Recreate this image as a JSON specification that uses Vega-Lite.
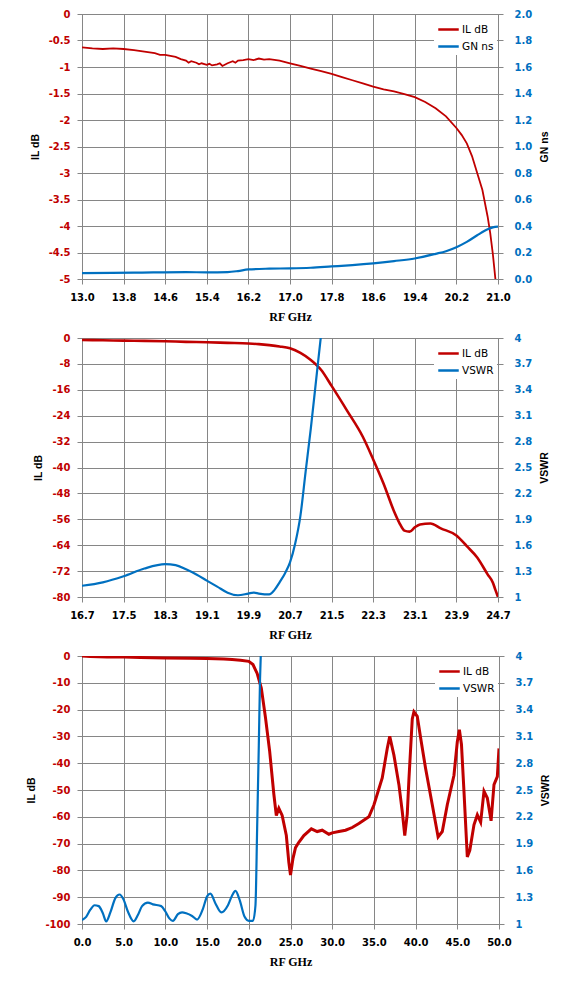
{
  "$schema": "https://vega.github.io/schema/vega-lite/v6.json",
  "background": "white",
  "padding": {"left": 26, "top": 8, "right": 5, "bottom": 5},
  "datasets": {
    "p1": [
      {"s":"IL dB","f":13.0,"v":-0.63},{"s":"IL dB","f":13.2,"v":-0.65},{"s":"IL dB","f":13.4,"v":-0.66},{"s":"IL dB","f":13.6,"v":-0.65},{"s":"IL dB","f":13.8,"v":-0.66},{"s":"IL dB","f":14.0,"v":-0.68},{"s":"IL dB","f":14.2,"v":-0.71},{"s":"IL dB","f":14.4,"v":-0.74},{"s":"IL dB","f":14.5,"v":-0.77},{"s":"IL dB","f":14.6,"v":-0.77},{"s":"IL dB","f":14.7,"v":-0.79},{"s":"IL dB","f":14.8,"v":-0.81},{"s":"IL dB","f":14.9,"v":-0.85},{"s":"IL dB","f":15.0,"v":-0.88},{"s":"IL dB","f":15.05,"v":-0.92},{"s":"IL dB","f":15.1,"v":-0.89},{"s":"IL dB","f":15.2,"v":-0.92},{"s":"IL dB","f":15.25,"v":-0.95},{"s":"IL dB","f":15.3,"v":-0.93},{"s":"IL dB","f":15.4,"v":-0.96},{"s":"IL dB","f":15.45,"v":-0.94},{"s":"IL dB","f":15.5,"v":-0.97},{"s":"IL dB","f":15.6,"v":-0.95},{"s":"IL dB","f":15.65,"v":-0.93},{"s":"IL dB","f":15.7,"v":-0.98},{"s":"IL dB","f":15.8,"v":-0.93},{"s":"IL dB","f":15.9,"v":-0.89},{"s":"IL dB","f":15.95,"v":-0.92},{"s":"IL dB","f":16.0,"v":-0.88},{"s":"IL dB","f":16.1,"v":-0.87},{"s":"IL dB","f":16.2,"v":-0.85},{"s":"IL dB","f":16.3,"v":-0.87},{"s":"IL dB","f":16.4,"v":-0.84},{"s":"IL dB","f":16.5,"v":-0.86},{"s":"IL dB","f":16.6,"v":-0.85},{"s":"IL dB","f":16.8,"v":-0.88},{"s":"IL dB","f":17.0,"v":-0.93},{"s":"IL dB","f":17.2,"v":-0.98},{"s":"IL dB","f":17.4,"v":-1.03},{"s":"IL dB","f":17.6,"v":-1.08},{"s":"IL dB","f":17.8,"v":-1.13},{"s":"IL dB","f":18.0,"v":-1.19},{"s":"IL dB","f":18.2,"v":-1.25},{"s":"IL dB","f":18.4,"v":-1.31},{"s":"IL dB","f":18.6,"v":-1.37},{"s":"IL dB","f":18.8,"v":-1.42},{"s":"IL dB","f":19.0,"v":-1.46},{"s":"IL dB","f":19.2,"v":-1.51},{"s":"IL dB","f":19.4,"v":-1.57},{"s":"IL dB","f":19.6,"v":-1.66},{"s":"IL dB","f":19.8,"v":-1.78},{"s":"IL dB","f":20.0,"v":-1.93},{"s":"IL dB","f":20.2,"v":-2.15},{"s":"IL dB","f":20.3,"v":-2.28},{"s":"IL dB","f":20.4,"v":-2.44},{"s":"IL dB","f":20.5,"v":-2.68},{"s":"IL dB","f":20.6,"v":-3.0},{"s":"IL dB","f":20.7,"v":-3.32},{"s":"IL dB","f":20.8,"v":-3.82},{"s":"IL dB","f":20.85,"v":-4.13},{"s":"IL dB","f":20.9,"v":-4.52},{"s":"IL dB","f":20.95,"v":-5.0},
      {"s":"GN ns","f":13.0,"v":0.045},{"s":"GN ns","f":14.0,"v":0.048},{"s":"GN ns","f":15.0,"v":0.052},{"s":"GN ns","f":15.4,"v":0.05},{"s":"GN ns","f":15.8,"v":0.052},{"s":"GN ns","f":16.0,"v":0.06},{"s":"GN ns","f":16.2,"v":0.072},{"s":"GN ns","f":16.6,"v":0.078},{"s":"GN ns","f":17.0,"v":0.08},{"s":"GN ns","f":17.4,"v":0.085},{"s":"GN ns","f":17.8,"v":0.095},{"s":"GN ns","f":18.2,"v":0.105},{"s":"GN ns","f":18.6,"v":0.118},{"s":"GN ns","f":19.0,"v":0.135},{"s":"GN ns","f":19.4,"v":0.155},{"s":"GN ns","f":19.8,"v":0.19},{"s":"GN ns","f":20.0,"v":0.21},{"s":"GN ns","f":20.2,"v":0.24},{"s":"GN ns","f":20.4,"v":0.28},{"s":"GN ns","f":20.6,"v":0.33},{"s":"GN ns","f":20.8,"v":0.375},{"s":"GN ns","f":20.9,"v":0.39},{"s":"GN ns","f":21.0,"v":0.395}
    ],
    "p2": [
      {"s":"IL dB","f":16.7,"v":-0.6},{"s":"IL dB","f":17.1,"v":-0.7},{"s":"IL dB","f":17.5,"v":-0.8},{"s":"IL dB","f":17.9,"v":-0.9},{"s":"IL dB","f":18.3,"v":-1.0},{"s":"IL dB","f":18.7,"v":-1.2},{"s":"IL dB","f":19.1,"v":-1.3},{"s":"IL dB","f":19.5,"v":-1.5},{"s":"IL dB","f":19.9,"v":-1.7},{"s":"IL dB","f":20.1,"v":-1.9},{"s":"IL dB","f":20.3,"v":-2.2},{"s":"IL dB","f":20.5,"v":-2.6},{"s":"IL dB","f":20.7,"v":-3.2},{"s":"IL dB","f":20.9,"v":-4.6},{"s":"IL dB","f":21.1,"v":-6.8},{"s":"IL dB","f":21.3,"v":-9.9},{"s":"IL dB","f":21.5,"v":-14.8},{"s":"IL dB","f":21.8,"v":-22.5},{"s":"IL dB","f":22.1,"v":-30.5},{"s":"IL dB","f":22.3,"v":-37.5},{"s":"IL dB","f":22.5,"v":-45.0},{"s":"IL dB","f":22.7,"v":-53.5},{"s":"IL dB","f":22.8,"v":-57.0},{"s":"IL dB","f":22.9,"v":-59.5},{"s":"IL dB","f":23.0,"v":-59.8},{"s":"IL dB","f":23.1,"v":-58.5},{"s":"IL dB","f":23.2,"v":-57.6},{"s":"IL dB","f":23.4,"v":-57.3},{"s":"IL dB","f":23.6,"v":-58.8},{"s":"IL dB","f":23.9,"v":-61.0},{"s":"IL dB","f":24.1,"v":-64.3},{"s":"IL dB","f":24.3,"v":-67.8},{"s":"IL dB","f":24.5,"v":-73.0},{"s":"IL dB","f":24.6,"v":-75.5},{"s":"IL dB","f":24.65,"v":-77.8},{"s":"IL dB","f":24.7,"v":-80.0},
      {"s":"VSWR","f":16.7,"v":1.13},{"s":"VSWR","f":17.1,"v":1.17},{"s":"VSWR","f":17.5,"v":1.24},{"s":"VSWR","f":17.9,"v":1.33},{"s":"VSWR","f":18.3,"v":1.38},{"s":"VSWR","f":18.5,"v":1.37},{"s":"VSWR","f":18.7,"v":1.32},{"s":"VSWR","f":18.9,"v":1.26},{"s":"VSWR","f":19.1,"v":1.19},{"s":"VSWR","f":19.3,"v":1.12},{"s":"VSWR","f":19.5,"v":1.05},{"s":"VSWR","f":19.7,"v":1.02},{"s":"VSWR","f":19.9,"v":1.04},{"s":"VSWR","f":20.0,"v":1.05},{"s":"VSWR","f":20.1,"v":1.04},{"s":"VSWR","f":20.3,"v":1.03},{"s":"VSWR","f":20.4,"v":1.08},{"s":"VSWR","f":20.5,"v":1.17},{"s":"VSWR","f":20.6,"v":1.27},{"s":"VSWR","f":20.7,"v":1.4},{"s":"VSWR","f":20.8,"v":1.62},{"s":"VSWR","f":20.9,"v":1.94},{"s":"VSWR","f":21.0,"v":2.45},{"s":"VSWR","f":21.1,"v":2.95},{"s":"VSWR","f":21.2,"v":3.5},{"s":"VSWR","f":21.3,"v":4.05},{"s":"VSWR","f":21.35,"v":4.3}
    ],
    "p3": [
      {"s":"IL dB","f":0,"v":0},{"s":"IL dB","f":1,"v":-0.2},{"s":"IL dB","f":2,"v":-0.3},{"s":"IL dB","f":3,"v":-0.4},{"s":"IL dB","f":5,"v":-0.4},{"s":"IL dB","f":7,"v":-0.6},{"s":"IL dB","f":10,"v":-0.7},{"s":"IL dB","f":13,"v":-0.8},{"s":"IL dB","f":15,"v":-0.9},{"s":"IL dB","f":17,"v":-1.1},{"s":"IL dB","f":18,"v":-1.3},{"s":"IL dB","f":19,"v":-1.6},{"s":"IL dB","f":20,"v":-2.0},{"s":"IL dB","f":20.5,"v":-3.2},{"s":"IL dB","f":21.0,"v":-6.5},{"s":"IL dB","f":21.5,"v":-12},{"s":"IL dB","f":22.0,"v":-23},{"s":"IL dB","f":22.5,"v":-35.5},{"s":"IL dB","f":23.0,"v":-51.5},{"s":"IL dB","f":23.3,"v":-59.5},{"s":"IL dB","f":23.6,"v":-56.8},{"s":"IL dB","f":24.0,"v":-59.5},{"s":"IL dB","f":24.5,"v":-67},{"s":"IL dB","f":24.8,"v":-77},{"s":"IL dB","f":25.0,"v":-81.7},{"s":"IL dB","f":25.3,"v":-75.5},{"s":"IL dB","f":25.6,"v":-71.5},{"s":"IL dB","f":26.0,"v":-69.5},{"s":"IL dB","f":26.6,"v":-67},{"s":"IL dB","f":27.5,"v":-64.5},{"s":"IL dB","f":28.2,"v":-65.5},{"s":"IL dB","f":28.8,"v":-65},{"s":"IL dB","f":29.6,"v":-66.5},{"s":"IL dB","f":30.0,"v":-66},{"s":"IL dB","f":30.8,"v":-65.5},{"s":"IL dB","f":31.6,"v":-65},{"s":"IL dB","f":32.4,"v":-64},{"s":"IL dB","f":33.2,"v":-62.5},{"s":"IL dB","f":34.4,"v":-60},{"s":"IL dB","f":35.0,"v":-55.6},{"s":"IL dB","f":36.0,"v":-45.5},{"s":"IL dB","f":36.6,"v":-34.5},{"s":"IL dB","f":36.9,"v":-30},{"s":"IL dB","f":37.4,"v":-37},{"s":"IL dB","f":38.0,"v":-48},{"s":"IL dB","f":38.4,"v":-58},{"s":"IL dB","f":38.7,"v":-67},{"s":"IL dB","f":39.0,"v":-59},{"s":"IL dB","f":39.2,"v":-46},{"s":"IL dB","f":39.6,"v":-23.5},{"s":"IL dB","f":39.8,"v":-20.8},{"s":"IL dB","f":40.2,"v":-22.5},{"s":"IL dB","f":40.6,"v":-30.5},{"s":"IL dB","f":41.2,"v":-42},{"s":"IL dB","f":42.0,"v":-55.5},{"s":"IL dB","f":42.7,"v":-67.5},{"s":"IL dB","f":43.2,"v":-65.5},{"s":"IL dB","f":43.8,"v":-55.5},{"s":"IL dB","f":44.6,"v":-44.5},{"s":"IL dB","f":45.0,"v":-32},{"s":"IL dB","f":45.25,"v":-27.5},{"s":"IL dB","f":45.5,"v":-33},{"s":"IL dB","f":45.8,"v":-50.5},{"s":"IL dB","f":46.2,"v":-75},{"s":"IL dB","f":46.5,"v":-72.5},{"s":"IL dB","f":47.0,"v":-63},{"s":"IL dB","f":47.4,"v":-59.3},{"s":"IL dB","f":47.8,"v":-62},{"s":"IL dB","f":48.2,"v":-50.5},{"s":"IL dB","f":48.6,"v":-53},{"s":"IL dB","f":49.05,"v":-61.5},{"s":"IL dB","f":49.4,"v":-48},{"s":"IL dB","f":49.8,"v":-45},{"s":"IL dB","f":50.0,"v":-34.5},
      {"s":"VSWR","f":0.0,"v":1.045},{"s":"VSWR","f":0.5,"v":1.08},{"s":"VSWR","f":1.0,"v":1.16},{"s":"VSWR","f":1.5,"v":1.21},{"s":"VSWR","f":2.0,"v":1.2},{"s":"VSWR","f":2.5,"v":1.12},{"s":"VSWR","f":2.9,"v":1.03},{"s":"VSWR","f":3.4,"v":1.13},{"s":"VSWR","f":4.0,"v":1.29},{"s":"VSWR","f":4.5,"v":1.33},{"s":"VSWR","f":5.0,"v":1.27},{"s":"VSWR","f":5.5,"v":1.14},{"s":"VSWR","f":6.2,"v":1.03},{"s":"VSWR","f":6.7,"v":1.1},{"s":"VSWR","f":7.2,"v":1.2},{"s":"VSWR","f":7.9,"v":1.24},{"s":"VSWR","f":8.5,"v":1.22},{"s":"VSWR","f":9.5,"v":1.2},{"s":"VSWR","f":10.0,"v":1.14},{"s":"VSWR","f":10.5,"v":1.06},{"s":"VSWR","f":10.9,"v":1.035},{"s":"VSWR","f":11.5,"v":1.11},{"s":"VSWR","f":12.0,"v":1.13},{"s":"VSWR","f":12.5,"v":1.12},{"s":"VSWR","f":13.2,"v":1.09},{"s":"VSWR","f":13.8,"v":1.05},{"s":"VSWR","f":14.5,"v":1.17},{"s":"VSWR","f":15.0,"v":1.31},{"s":"VSWR","f":15.4,"v":1.34},{"s":"VSWR","f":16.0,"v":1.23},{"s":"VSWR","f":16.7,"v":1.13},{"s":"VSWR","f":17.5,"v":1.21},{"s":"VSWR","f":18.0,"v":1.32},{"s":"VSWR","f":18.4,"v":1.37},{"s":"VSWR","f":18.9,"v":1.27},{"s":"VSWR","f":19.5,"v":1.08},{"s":"VSWR","f":20.0,"v":1.035},{"s":"VSWR","f":20.5,"v":1.035},{"s":"VSWR","f":20.8,"v":1.21},{"s":"VSWR","f":21.0,"v":2.07},{"s":"VSWR","f":21.2,"v":3.0},{"s":"VSWR","f":21.35,"v":3.75},{"s":"VSWR","f":21.45,"v":4.05}
    ]
  },
  "vconcat": [
    {
      "width": 416, "height": 265,
      "data": {"name": "p1"},
      "layer": [
        {
          "transform": [{"filter": "datum.s === 'IL dB'"}],
          "mark": {"type": "line", "clip": true, "strokeWidth": 1.8},
          "encoding": {
            "x": {"field": "f", "type": "quantitative", "scale": {"domain": [13, 21], "nice": false, "zero": false}, "axis": {"values": [13.0,13.8,14.6,15.4,16.2,17.0,17.8,18.6,19.4,20.2,21.0], "format": ".1f", "title": "RF GHz"}},
            "y": {"field": "v", "type": "quantitative", "scale": {"domain": [-5, 0], "nice": false, "zero": false}, "axis": {"orient": "left", "values": [0,-0.5,-1,-1.5,-2,-2.5,-3,-3.5,-4,-4.5,-5], "format": "~g", "title": "IL dB", "labelColor": "#C00000", "grid": true}},
            "color": {"field": "s", "type": "nominal", "scale": {"domain": ["IL dB", "GN ns"], "range": ["#C00000", "#0070C0"]}, "legend": {"title": null}}
          }
        },
        {
          "transform": [{"filter": "datum.s === 'GN ns'"}],
          "mark": {"type": "line", "clip": true, "strokeWidth": 2.2, "interpolate": "monotone"},
          "encoding": {
            "x": {"field": "f", "type": "quantitative", "scale": {"domain": [13, 21], "nice": false, "zero": false}},
            "y": {"field": "v", "type": "quantitative", "scale": {"domain": [0, 2], "nice": false, "zero": false}, "axis": {"orient": "right", "values": [0,0.2,0.4,0.6,0.8,1.0,1.2,1.4,1.6,1.8,2.0], "format": ".1f", "title": "GN ns", "labelColor": "#0070C0", "grid": false, "titleAngle": 270, "titleBaseline": "top", "labelPadding": 11}},
            "color": {"field": "s", "type": "nominal", "scale": {"domain": ["IL dB", "GN ns"], "range": ["#C00000", "#0070C0"]}}
          }
        }
      ],
      "resolve": {"scale": {"y": "independent"}}
    },
    {
      "width": 416, "height": 259,
      "data": {"name": "p2"},
      "layer": [
        {
          "transform": [{"filter": "datum.s === 'IL dB'"}],
          "mark": {"type": "line", "clip": true, "strokeWidth": 2.6, "interpolate": "monotone"},
          "encoding": {
            "x": {"field": "f", "type": "quantitative", "scale": {"domain": [16.7, 24.7], "nice": false, "zero": false}, "axis": {"values": [16.7,17.5,18.3,19.1,19.9,20.7,21.5,22.3,23.1,23.9,24.7], "format": ".1f", "title": "RF GHz"}},
            "y": {"field": "v", "type": "quantitative", "scale": {"domain": [-80, 0], "nice": false, "zero": false}, "axis": {"orient": "left", "values": [0,-8,-16,-24,-32,-40,-48,-56,-64,-72,-80], "format": "d", "title": "IL dB", "labelColor": "#C00000", "grid": true}},
            "color": {"field": "s", "type": "nominal", "scale": {"domain": ["IL dB", "VSWR"], "range": ["#C00000", "#0070C0"]}, "legend": {"title": null}}
          }
        },
        {
          "transform": [{"filter": "datum.s === 'VSWR'"}],
          "mark": {"type": "line", "clip": true, "strokeWidth": 2.2, "interpolate": "monotone"},
          "encoding": {
            "x": {"field": "f", "type": "quantitative", "scale": {"domain": [16.7, 24.7], "nice": false, "zero": false}},
            "y": {"field": "v", "type": "quantitative", "scale": {"domain": [1, 4], "nice": false, "zero": false}, "axis": {"orient": "right", "values": [1,1.3,1.6,1.9,2.2,2.5,2.8,3.1,3.4,3.7,4], "format": "~g", "title": "VSWR", "labelColor": "#0070C0", "grid": false, "titleAngle": 270, "titleBaseline": "top", "labelPadding": 11}},
            "color": {"field": "s", "type": "nominal", "scale": {"domain": ["IL dB", "VSWR"], "range": ["#C00000", "#0070C0"]}}
          }
        }
      ],
      "resolve": {"scale": {"y": "independent"}}
    },
    {
      "width": 417, "height": 268,
      "data": {"name": "p3"},
      "layer": [
        {
          "transform": [{"filter": "datum.s === 'IL dB'"}],
          "mark": {"type": "line", "clip": true, "strokeWidth": 3},
          "encoding": {
            "x": {"field": "f", "type": "quantitative", "scale": {"domain": [0, 50], "nice": false, "zero": false}, "axis": {"values": [0,5,10,15,20,25,30,35,40,45,50], "format": ".1f", "title": "RF GHz"}},
            "y": {"field": "v", "type": "quantitative", "scale": {"domain": [-100, 0], "nice": false, "zero": false}, "axis": {"orient": "left", "values": [0,-10,-20,-30,-40,-50,-60,-70,-80,-90,-100], "format": "d", "title": "IL dB", "labelColor": "#C00000", "grid": true}},
            "color": {"field": "s", "type": "nominal", "scale": {"domain": ["IL dB", "VSWR"], "range": ["#C00000", "#0070C0"]}, "legend": {"title": null}}
          }
        },
        {
          "transform": [{"filter": "datum.s === 'VSWR'"}],
          "mark": {"type": "line", "clip": true, "strokeWidth": 2.2, "interpolate": "monotone"},
          "encoding": {
            "x": {"field": "f", "type": "quantitative", "scale": {"domain": [0, 50], "nice": false, "zero": false}},
            "y": {"field": "v", "type": "quantitative", "scale": {"domain": [1, 4], "nice": false, "zero": false}, "axis": {"orient": "right", "values": [1,1.3,1.6,1.9,2.2,2.5,2.8,3.1,3.4,3.7,4], "format": "~g", "title": "VSWR", "labelColor": "#0070C0", "grid": false, "titleAngle": 270, "titleBaseline": "top", "labelPadding": 11}},
            "color": {"field": "s", "type": "nominal", "scale": {"domain": ["IL dB", "VSWR"], "range": ["#C00000", "#0070C0"]}}
          }
        }
      ],
      "resolve": {"scale": {"y": "independent"}}
    }
  ],
  "spacing": 59,
  "bounds": "flush",
  "resolve": {"scale": {"x": "independent", "y": "independent", "color": "independent"}},
  "config": {
    "locale": {"number": {"decimal": ".", "thousands": ",", "grouping": [3], "currency": ["$", ""], "minus": "-"}},
    "view": {"stroke": "#868686", "strokeWidth": 1},
    "axis": {
      "grid": true,
      "gridColor": "#868686", "gridOpacity": 1, "gridWidth": 1,
      "domainColor": "#868686", "domainWidth": 1,
      "tickColor": "#868686", "tickSize": 5, "tickWidth": 1,
      "labelFont": "DejaVu Sans", "labelFontWeight": "bold", "labelFontSize": 10, "labelPadding": 7,
      "titleFont": "Liberation Sans", "titleFontWeight": "bold", "titleFontSize": 10.5, "titleColor": "black", "titlePadding": 8
    },
    "axisX": {"labelColor": "black", "labelPadding": 8, "titleFont": "Liberation Serif", "titleFontSize": 12, "titlePadding": 9, "labelFlush": false, "labelOverlap": false},
    "axisY": {"labelOverlap": false},
    "legend": {
      "orient": "top-right", "offset": 1,
      "fillColor": "white", "padding": 3,
      "labelFont": "DejaVu Sans", "labelFontSize": 10.5, "labelColor": "black", "labelOffset": 2,
      "symbolType": "stroke", "symbolStrokeWidth": 2.5, "symbolSize": 420,
      "rowPadding": 0
    }
  }
}
